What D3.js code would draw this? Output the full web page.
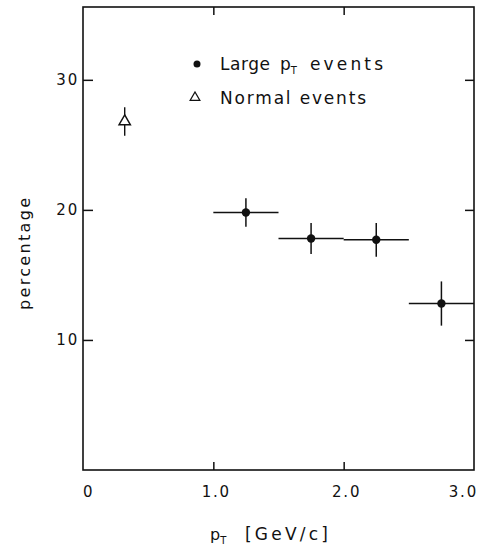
<!DOCTYPE html>
<html><head><meta charset="utf-8">
<script src="https://cdn.jsdelivr.net/npm/d3@7"></script>
<style>
body{margin:0;background:#fff;}
svg text{font-family:"DejaVu Sans",sans-serif;fill:#111;}
</style></head>
<body><svg id="c" width="490" height="548"></svg>
<script>
// ---- data ----
const largeX   = [1.25, 1.75, 2.25, 2.75];
const largeXlo = [1.0, 1.5, 2.0, 2.5];
const largeXhi = [1.5, 2.0, 2.5, 3.0];
const largeY   = [19.8, 17.8, 17.7, 12.8];
const largeErr = [1.1, 1.2, 1.3, 1.7];
const normalX  = [0.32];
const normalY  = [26.8];
const normalErr= [1.1];
const xTicks = [0, 1, 2, 3];
const xTickLabels = ["0", "1.0", "2.0", "3.0"];
const yTicks = [10, 20, 30];
const yTickLabels = ["10", "20", "30"];

const svg = d3.select("#c");
const x = d3.scaleLinear().domain([0, 3]).range([83, 474]);
const y = d3.scaleLinear().domain([0, 35.6]).range([470, 7]);
const ink = "#111";

// frame
svg.append("rect").attr("x", x(0)).attr("y", y(35.6))
  .attr("width", x(3) - x(0)).attr("height", y(0) - y(35.6))
  .attr("fill", "none").attr("stroke", ink).attr("stroke-width", 1.6);

// axes
const axL = svg.append("g").attr("transform", `translate(${x(0)},0)`)
  .call(d3.axisLeft(y).tickValues(yTicks).tickSize(-10).tickPadding(4)
    .tickFormat((d, i) => yTickLabels[i]));
const axR = svg.append("g").attr("transform", `translate(${x(3)},0)`)
  .call(d3.axisRight(y).tickValues(yTicks).tickSize(-9).tickFormat(""));
const axB = svg.append("g").attr("transform", `translate(0,${y(0)})`)
  .call(d3.axisBottom(x).tickValues([1, 2]).tickSize(-8).tickFormat(""));
const axT = svg.append("g").attr("transform", `translate(0,${y(35.6)})`)
  .call(d3.axisTop(x).tickValues([1, 2]).tickSize(-8).tickFormat(""));
[axL, axR, axB, axT].forEach(g => {
  g.select(".domain").remove();
  g.selectAll("line").attr("stroke", ink).attr("stroke-width", 1.5);
});
axL.selectAll("text").attr("font-size", 15).attr("letter-spacing", 1.8)
  .attr("font-family", "DejaVu Sans").attr("fill", ink);

// x tick labels
svg.append("g").selectAll("text").data(xTicks).join("text")
  .attr("x", (d, i) => x(d) + (i === 0 ? 0 : i === xTicks.length - 1 ? 4 : 3))
  .attr("y", 497)
  .attr("text-anchor", (d, i) => i === 0 ? "start" : i === xTicks.length - 1 ? "end" : "middle")
  .attr("font-size", 15).attr("letter-spacing", 1.8)
  .text((d, i) => xTickLabels[i]);

// axis titles
const xt = svg.append("text").attr("x", 210).attr("y", 540).attr("font-size", 16);
xt.append("tspan").text("p");
xt.append("tspan").attr("font-size", 10).attr("dy", 4).text("T");
svg.append("text").attr("x", 245).attr("y", 540).attr("font-size", 17)
  .attr("textLength", 83).attr("lengthAdjust", "spacing").text("[GeV/c]");

svg.append("text").attr("transform", "translate(30,254) rotate(-90)")
  .attr("text-anchor", "middle").attr("font-size", 16)
  .attr("textLength", 112).attr("lengthAdjust", "spacing")
  .text("percentage");

// legend
svg.append("circle").attr("cx", 197).attr("cy", 64).attr("r", 3.5).attr("fill", ink);
svg.append("text").attr("x", 220).attr("y", 69.5).attr("font-size", 17)
  .attr("textLength", 50).attr("lengthAdjust", "spacing").text("Large");
const l1 = svg.append("text").attr("x", 280).attr("y", 69.5).attr("font-size", 17);
l1.append("tspan").text("p");
l1.append("tspan").attr("font-size", 10).attr("dy", 4).text("T");
svg.append("text").attr("x", 310).attr("y", 69.5).attr("font-size", 17)
  .attr("textLength", 73).attr("lengthAdjust", "spacing").text("events");
svg.append("path").attr("d", d3.symbol(d3.symbolTriangle, 40)())
  .attr("transform", "translate(195,97.5)").attr("fill", "none").attr("stroke", ink).attr("stroke-width", 1.3);
svg.append("text").attr("x", 220).attr("y", 103.5).attr("font-size", 17)
  .attr("textLength", 146).attr("lengthAdjust", "spacing").text("Normal  events");

// large pT points
const gL = svg.append("g");
largeX.forEach((v, i) => {
  gL.append("line").attr("x1", x(largeXlo[i])).attr("x2", x(largeXhi[i]))
    .attr("y1", y(largeY[i])).attr("y2", y(largeY[i]))
    .attr("stroke", ink).attr("stroke-width", 1.6);
  gL.append("line").attr("x1", x(v)).attr("x2", x(v))
    .attr("y1", y(largeY[i] - largeErr[i])).attr("y2", y(largeY[i] + largeErr[i]))
    .attr("stroke", ink).attr("stroke-width", 1.5);
  gL.append("circle").attr("cx", x(v)).attr("cy", y(largeY[i])).attr("r", 4.2).attr("fill", ink);
});

// normal events point
const gN = svg.append("g");
normalX.forEach((v, i) => {
  gN.append("line").attr("x1", x(v)).attr("x2", x(v))
    .attr("y1", y(normalY[i] - normalErr[i])).attr("y2", y(normalY[i] + normalErr[i]))
    .attr("stroke", ink).attr("stroke-width", 1.4);
  gN.append("path").attr("d", d3.symbol(d3.symbolTriangle, 55)())
    .attr("transform", `translate(${x(v)},${y(normalY[i])})`)
    .attr("fill", "#fff").attr("stroke", ink).attr("stroke-width", 1.5);
});
</script></body></html>
